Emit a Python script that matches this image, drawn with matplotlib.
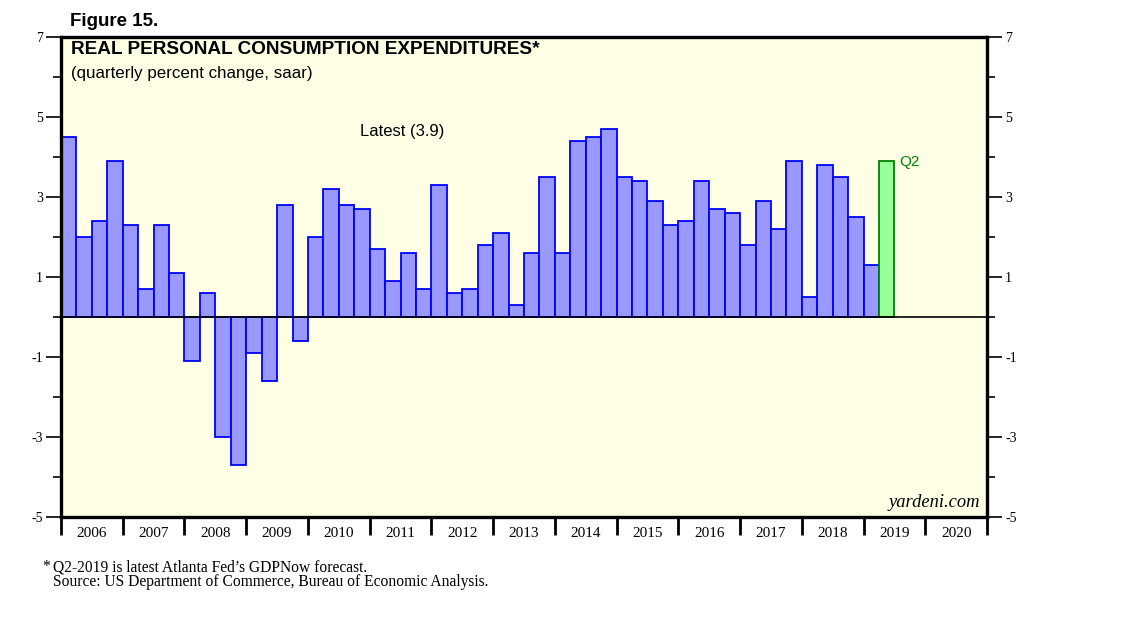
import numpy as np
import matplotlib.pyplot as plt
from matplotlib.ticker import FixedLocator, NullFormatter

# Real PCE, quarterly percent change (saar), 2006Q1 - 2019Q1
pce = [
    4.5, 2.0, 2.4, 3.9,    # 2006
    2.3, 0.7, 2.3, 1.1,    # 2007
    -1.1, 0.6, -3.0, -3.7,  # 2008
    -0.9, -1.6, 2.8, -0.6,  # 2009
    2.0, 3.2, 2.8, 2.7,    # 2010
    1.7, 0.9, 1.6, 0.7,    # 2011
    3.3, 0.6, 0.7, 1.8,    # 2012
    2.1, 0.3, 1.6, 3.5,    # 2013
    1.6, 4.4, 4.5, 4.7,    # 2014
    3.5, 3.4, 2.9, 2.3,    # 2015
    2.4, 3.4, 2.7, 2.6,    # 2016
    1.8, 2.9, 2.2, 3.9,    # 2017
    0.5, 3.8, 3.5, 2.5,    # 2018
    1.3,                   # 2019Q1
]
# GDPNow forecast for 2019Q2
forecast = [3.9]
start_year = 2006
years = list(range(2006, 2021))
yticks_major = [-5, -3, -1, 1, 3, 5, 7]
yticks_minor = [-4, -2, 0, 2, 4, 6]

SANS = "Liberation Sans"
SERIF = "Liberation Serif"

fig = plt.figure(figsize=(11.38, 6.21), dpi=100)
ax = fig.add_axes([61 / 1138, 1 - 517 / 621, 926 / 1138, 480 / 621])
ax.set_facecolor("#ffffe6")

x_hist = start_year + np.arange(len(pce)) / 4
x_fc = start_year + (len(pce) + np.arange(len(forecast))) / 4
ax.bar(x_hist, pce, width=0.25, align="edge", color="#9999ff", edgecolor="#0000ff", linewidth=1.3, zorder=2)
ax.bar(x_fc, forecast, width=0.25, align="edge", color="#99ff99", edgecolor="#008000", linewidth=1.3, zorder=2)
ax.axhline(0, color="black", linewidth=1.2, zorder=3)

ax.set_xlim(2006, 2021)
ax.set_ylim(-5, 7)

for s in ax.spines.values():
    s.set_linewidth(2.4)

# y axis on both sides
ax.yaxis.set_major_locator(FixedLocator(yticks_major))
ax.yaxis.set_minor_locator(FixedLocator(yticks_minor))
ax.tick_params(axis="y", which="major", direction="out", length=11, width=1.2,
               left=True, right=True, labelleft=True, labelright=True, labelsize=10, pad=2)
ax.tick_params(axis="y", which="minor", direction="out", length=6, width=1.2, left=True, right=True)
ax.set_yticklabels([str(v) for v in yticks_major], fontfamily=SERIF)
for lbl in ax.get_yticklabels(which="both"):
    lbl.set_fontfamily(SERIF)

# x axis: ticks at year boundaries, labels centred in each year
ax.xaxis.set_major_locator(FixedLocator(years + [2021]))
ax.xaxis.set_major_formatter(NullFormatter())
ax.xaxis.set_minor_locator(FixedLocator([y + 0.5 for y in years]))
ax.set_xticklabels([str(y) for y in years], minor=True, fontfamily=SERIF, fontsize=11)
ax.tick_params(axis="x", which="major", direction="out", length=13, width=2)
ax.tick_params(axis="x", which="minor", length=0, pad=7)

# titles and annotations
ax.text(0.011, 0.992, "REAL PERSONAL CONSUMPTION EXPENDITURES*", transform=ax.transAxes,
        ha="left", va="top", fontsize=13.7, fontweight="bold", fontfamily=SANS)
ax.text(0.011, 0.94, "(quarterly percent change, saar)", transform=ax.transAxes,
        ha="left", va="top", fontsize=12.2, fontfamily=SANS)
ax.text(2011.52, 4.65, "Latest (3.9)", ha="center", va="center", fontsize=12, fontfamily=SANS)
ax.text(x_fc[-1] + 0.33, forecast[-1] - 0.02, "Q2", ha="left", va="center",
        fontsize=11, fontfamily=SANS, color="#008000")
ax.text(0.993, 0.012, "yardeni.com", transform=ax.transAxes, ha="right", va="bottom",
        fontsize=13.3, fontstyle="italic", fontfamily=SERIF)

fig.text(70 / 1138, 1 - 26 / 621, "Figure 15.", ha="left", va="baseline",
         fontsize=13.5, fontweight="bold", fontfamily=SANS)
fig.text(42 / 1138, 1 - 571 / 621, "*", ha="left", va="baseline", fontsize=11.2, fontfamily=SERIF)
fig.text(53 / 1138, 1 - 571 / 621, "Q2-2019 is latest Atlanta Fed\u2019s GDPNow forecast.",
         ha="left", va="baseline", fontsize=11.2, fontfamily=SERIF)
fig.text(53 / 1138, 1 - 586 / 621, "Source: US Department of Commerce, Bureau of Economic Analysis.",
         ha="left", va="baseline", fontsize=11.2, fontfamily=SERIF)

fig.savefig("out.png", dpi=100, facecolor="white")
